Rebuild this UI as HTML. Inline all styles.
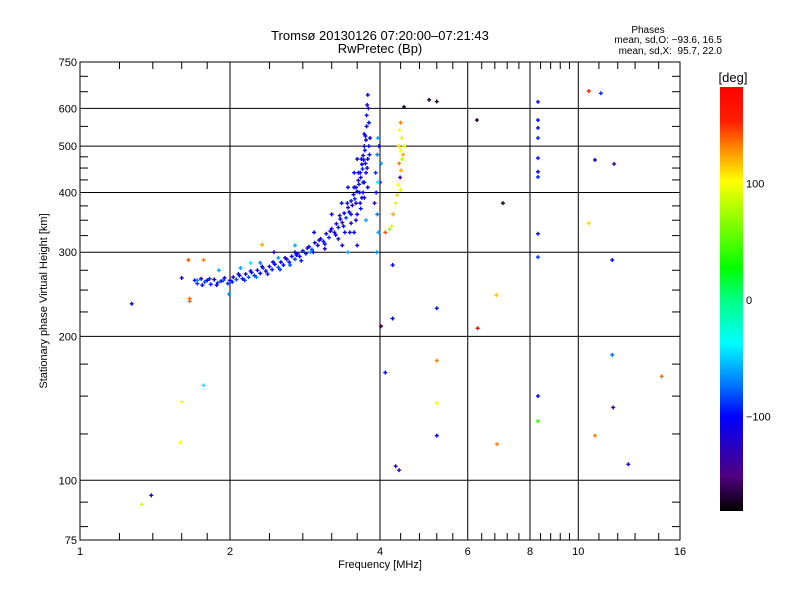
<!DOCTYPE html>
<html><head><meta charset="utf-8"><style>
html,body{margin:0;padding:0;background:#fff;}
svg{display:block;font-family:"Liberation Sans",sans-serif;}
</style></head><body>
<svg id="chart" width="800" height="600" viewBox="0 0 800 600" xmlns="http://www.w3.org/2000/svg">
<defs>
<linearGradient id="cbar" x1="0" y1="1" x2="0" y2="0">
<stop offset="0" stop-color="#000000"/>
<stop offset="0.083" stop-color="#500080"/>
<stop offset="0.222" stop-color="#0000ff"/>
<stop offset="0.305" stop-color="#0080ff"/>
<stop offset="0.397" stop-color="#00ffff"/>
<stop offset="0.5" stop-color="#00ff80"/>
<stop offset="0.572" stop-color="#00ff00"/>
<stop offset="0.778" stop-color="#ffff00"/>
<stop offset="0.861" stop-color="#ff8000"/>
<stop offset="0.917" stop-color="#ff2000"/>
<stop offset="1" stop-color="#ff0000"/>
</linearGradient>
</defs>
<text x="380" y="40" font-size="13" text-anchor="middle">Tromsø 20130126 07:20:00–07:21:43</text>
<text x="380" y="53" font-size="13" text-anchor="middle">RwPretec (Bp)</text>
<text x="648" y="33" font-size="10" text-anchor="middle">Phases</text>
<text x="722" y="43" font-size="10" text-anchor="end">mean, sd,O: −93.6, 16.5</text>
<text x="722" y="54" font-size="10" text-anchor="end" xml:space="preserve">mean, sd,X:  95.7, 22.0</text>
<g id="grid"></g>
<g id="ticks"></g>
<g id="points"></g>
<rect x="80" y="62" width="600" height="478" fill="none" stroke="#000" stroke-width="1"/>
<text x="380" y="568" font-size="11" text-anchor="middle">Frequency [MHz]</text>
<text x="0" y="0" font-size="11" text-anchor="middle" transform="translate(47,301) rotate(-90)">Stationary phase Virtual Height [km]</text>
<rect x="720" y="87" width="23" height="424" fill="url(#cbar)"/>
<text x="733" y="82" font-size="13" text-anchor="middle">[deg]</text>
<g id="cbticks"></g>
</svg>
<script>
const xTicks = [1, 2, 4, 6, 8, 10, 16];
const xGrid = [2, 4, 6, 8, 10];
const xMinor = [1.2, 1.4, 1.6, 1.8, 2.4, 2.8, 3.2, 3.6, 4.4, 4.8, 5.2, 5.6, 6.4, 6.8, 7.2, 7.6, 8.4, 8.8, 9.2, 9.6, 11, 12, 13, 14.5];
const yTicks = [75, 100, 200, 300, 400, 500, 600, 750];
const yGrid = [100, 200, 300, 400, 500, 600];
const yMinor = [80, 90, 125, 150, 175, 225, 250, 275, 325, 350, 375, 425, 450, 475, 550, 650, 700];
const cbValues = [100, 0, -100];

const freqs = [
1.70,1.72,1.75,1.78,1.80,1.83,1.86,1.89,1.92,1.95,1.98,2.00,2.03,2.06,2.09,2.12,2.15,2.18,2.21,2.24,2.27,2.30,2.33,2.36,2.40,2.43,2.46,2.50,2.53,2.56,2.60,2.63,2.66,2.70,2.73,2.76,2.80,2.84,2.88,2.92,2.96,3.00,3.04,3.08,3.12,3.16,3.20,3.24,3.27,3.30,3.33,3.36,3.39,3.42,3.45,3.47,3.50,3.52,3.54,3.56,3.58,3.60,3.62,3.63,3.65,3.66,3.68,3.69,3.70,3.71,3.72,3.73,3.74,3.75,3.76,3.76,3.77,3.78,
2.10,2.30,2.50,2.70,2.90,3.10,3.30,3.40,3.50,3.60,3.65,3.70,3.72,3.75,3.78,3.80,3.75,3.60,3.45,
1.90,2.20,2.45,2.70,2.95,3.20,3.35,3.45,3.55,3.60,
3.92,3.95,3.96,3.93,3.95,3.97,3.94,3.90,4.00,3.98,4.02,3.96,
4.40,4.38,4.42,4.36,4.40,4.43,4.37,4.41,4.39,4.35,4.40,4.33,4.30,4.25,4.22,4.18,4.10,4.47,4.45,
1.27,1.60,1.65,1.66,1.66,1.77,1.77,1.60,1.59,1.39,1.33,1.99,2.32,
5.02,5.20,4.47,6.26,7.06,4.24,4.02,4.24,5.20,4.10,4.30,4.37,5.20,5.20,5.20,6.28,6.85,6.87,
8.30,8.30,8.30,8.30,8.30,8.30,8.30,8.30,8.30,8.30,8.30,
10.5,11.1,10.8,11.8,10.5,11.7,11.7,11.75,10.8,12.6,14.7,
1.72,1.76,1.82,1.88,1.94,2.02,2.08,2.14,2.20,2.26,2.32,2.38,2.44,2.52,2.58,2.64,2.72,2.78,2.86,2.94,3.02,3.10,3.18,3.26,3.32,3.38,3.44,3.50,3.55,3.58,3.62,3.64,3.67,3.70,3.72,3.74,3.79,3.80,3.82,3.81,3.77,3.68,3.58,3.48,3.36,3.55,3.66,3.72,3.78
];
const heights = [
262,258,264,260,262,257,263,259,261,265,258,262,266,263,268,264,270,266,272,268,275,271,278,274,280,276,283,279,286,282,290,286,294,290,298,294,302,298,308,304,314,310,320,316,328,322,336,330,344,338,352,346,362,354,372,364,384,376,396,388,410,402,424,416,440,430,458,448,478,468,500,490,525,515,550,580,610,640,
278,285,292,300,300,305,320,330,345,360,380,400,420,440,470,500,350,310,300,
275,285,300,310,330,360,380,410,440,470,
440,480,520,400,360,330,300,380,420,500,460,420,
560,540,520,500,490,470,460,445,430,415,405,395,380,360,340,335,330,500,480,
234,265,289,237,240,289,158,146,120,93,89,245,311,
625,620,604,567,380,282,210,218,229,168,107,105,178,145,124,208,244,119,
619,567,546,520,472,442,431,328,293,150,133,
652,645,468,459,345,289,183,142,124,108,165,
262,256,264,256,262,260,270,262,274,266,280,270,286,276,292,282,296,288,306,300,318,312,332,326,358,340,380,360,410,380,440,400,470,420,530,460,600,560,520,480,450,390,350,330,310,330,370,390,410
];
const phases = [
-100,-90,-110,-80,-100,-95,-105,-85,-100,-110,-90,-100,-120,-85,-100,-95,-110,-80,-100,-90,-105,-100,-85,-100,-110,-95,-100,-80,-105,-100,-120,-95,-100,-85,-110,-100,-95,-105,-100,-80,-110,-100,-120,-95,-100,-90,-110,-100,-115,-95,-100,-120,-100,-85,-110,-100,-95,-115,-100,-90,-110,-100,-120,-95,-100,-110,-100,-90,-110,-100,-105,-95,-100,-110,-100,-95,-110,-100,
-60,-70,-60,-110,-60,-120,-110,-100,-120,-110,-100,-110,-95,-120,-100,-110,-60,-110,-60,
-60,-40,-120,-60,-100,-110,-100,-95,-100,-110,
-90,-70,-60,-100,-70,-60,-65,-120,-100,-110,-60,-40,
130,100,90,110,100,80,130,120,-140,100,90,110,90,120,90,70,140,90,120,
-100,-120,140,135,135,130,-40,100,100,-110,90,-60,120,
-170,-170,-170,-170,-170,-100,-150,-100,-95,-100,-125,-125,130,100,-100,170,115,130,
-95,-100,-100,-90,-95,-100,-90,-95,-85,-100,40,
150,-90,-110,-130,110,-100,-75,-140,130,-115,135,
-70,-100,-90,-110,-80,-95,-105,-90,-100,-70,-110,-95,-100,-90,-110,-80,-100,-95,-110,-100,-105,-95,-110,-100,-120,-100,-110,-95,-100,-120,-110,-100,-105,-95,-110,-100,-120,-100,-110,-100,-115,-110,-120,-100,-110,-100,-95,-110,-100
];

function xs(f){ return 80 + 150*Math.log2(f); }
function ys(h){ return 540 - 478*Math.log10(h/75); }
const cStops = [[-180,[0,0,0]],[-150,[80,0,128]],[-100,[0,0,255]],[-70,[0,128,255]],[-37,[0,255,255]],[0,[0,255,128]],[26,[0,255,0]],[100,[255,255,0]],[130,[255,128,0]],[150,[255,32,0]],[180,[255,0,0]]];
function color(p){
  for(let i=0;i<cStops.length-1;i++){
    const a=cStops[i],b=cStops[i+1];
    if(p<=b[0]){const t=Math.max(0,(p-a[0])/(b[0]-a[0]));
      return 'rgb('+a[1].map((v,k)=>Math.round(v+(b[1][k]-v)*t)).join(',')+')';}
  }
  return 'rgb(255,0,0)';
}
function cbY(v){ return 300 - v*1.165; }

const NS='http://www.w3.org/2000/svg';
function mk(tag,attrs,parent){const e=document.createElementNS(NS,tag);for(const k in attrs)e.setAttribute(k,attrs[k]);parent.appendChild(e);return e;}
const grid=document.getElementById('grid'), ticks=document.getElementById('ticks'), pts=document.getElementById('points'), cbt=document.getElementById('cbticks');

xGrid.forEach(f=>{const l=mk('line',{x1:xs(f),x2:xs(f),y1:62,y2:540,stroke:'#000','stroke-width':1},grid);

});
yGrid.forEach(h=>{const l=mk('line',{x1:80,x2:680,y1:ys(h),y2:ys(h),stroke:'#000','stroke-width':1},grid);

});
xMinor.forEach(f=>{const x=xs(f);
 const a=mk('line',{x1:x,x2:x,y1:540,y2:533,stroke:'#000'},ticks);
 
 
 const b=mk('line',{x1:x,x2:x,y1:62,y2:69,stroke:'#000'},ticks);
 
 });
yMinor.forEach(h=>{const y=ys(h);
 const a=mk('line',{x1:80,x2:88,y1:y,y2:y,stroke:'#000'},ticks);
 
 
 const b=mk('line',{x1:680,x2:672,y1:y,y2:y,stroke:'#000'},ticks);
 
 });
xTicks.forEach(f=>{const t=mk('text',{x:xs(f),y:555,'font-size':11,'text-anchor':'middle'},ticks);t.textContent=f;
 
 });
yTicks.forEach(h=>{const t=mk('text',{x:77,y:ys(h)+4,'font-size':11,'text-anchor':'end'},ticks);t.textContent=h;
 
 });
cbValues.forEach(v=>{const t=mk('text',{x:746,y:cbY(v)+4,'font-size':11},cbt);t.textContent=(v<0?'−'+(-v):v);
 
 });

for(let i=0;i<freqs.length;i++){
  const x=xs(freqs[i]), y=ys(heights[i]), c=color(phases[i]);
  const g=mk('path',{d:`M${x-2},${y}H${x+2}M${x},${y-2}V${y+2}`,stroke:c,'stroke-width':1.4,fill:'none'},pts);
  
  
}
</script>
</body></html>
